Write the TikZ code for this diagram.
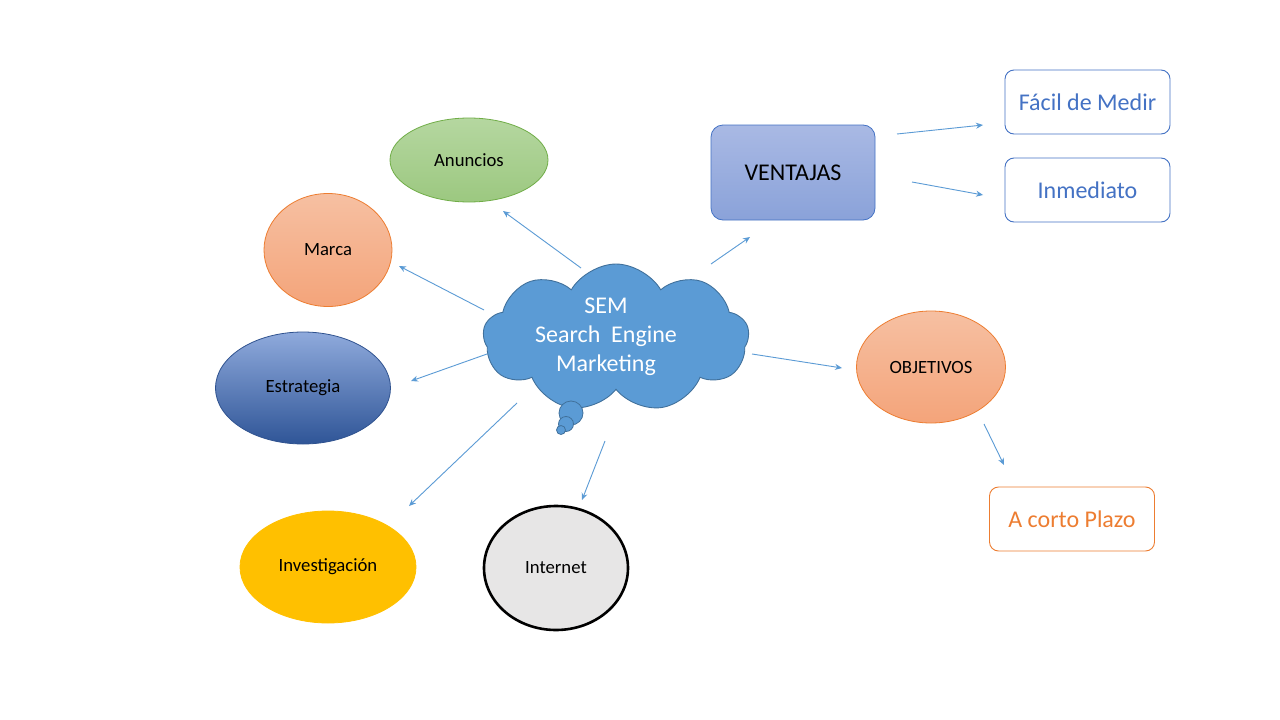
\documentclass[tikz,border=0pt]{standalone}
\usepackage{fontspec}
\setmainfont{Carlito}
\usetikzlibrary{shapes.geometric,shapes.symbols,arrows.meta}
\definecolor{arrowc}{HTML}{5B9BD5}
\definecolor{cloudf}{HTML}{5B9BD5}
\definecolor{cloudd}{HTML}{41719C}
\definecolor{greenT}{HTML}{B5D7A0}
\definecolor{greenB}{HTML}{9CC880}
\definecolor{greenD}{HTML}{70AD47}
\definecolor{orT}{HTML}{F6C0A2}
\definecolor{orB}{HTML}{F4A47A}
\definecolor{orD}{HTML}{ED7D31}
\definecolor{blT}{HTML}{8FAADC}
\definecolor{blM}{HTML}{4472C4}
\definecolor{blB}{HTML}{2F5597}
\definecolor{blD}{HTML}{2F528F}
\definecolor{vT}{HTML}{A9B9E4}
\definecolor{vB}{HTML}{8AA2D9}
\definecolor{boxblue}{HTML}{4472C4}
\definecolor{gold}{HTML}{FFC000}
\definecolor{greyf}{HTML}{E7E6E6}
\tikzset{
  arr/.style={draw=arrowc, line width=0.9pt, -{Stealth[length=7pt,width=6pt]}},
  oval/.style={ellipse, inner sep=0pt, font=\fontsize{18.7}{22}\selectfont, text=black},
  sidebox/.style={rectangle, rounded corners=9pt, fill=white, line width=0.9pt,
    minimum width=165pt, minimum height=64pt, inner sep=0pt, font=\fontsize{24}{28}\selectfont},
}
\begin{document}
\begin{tikzpicture}[x=1pt,y=-1pt]
\useasboundingbox (0,0) rectangle (1280,720);
\fill[white] (0,0) rectangle (1280,720);

% cloud
\node[cloud, cloud puffs=9, cloud puff arc=120, aspect=1.8, fill=cloudf, draw=cloudd, line width=0.9pt,
  minimum width=266pt, minimum height=148pt, inner sep=0pt] (cloud) at (616,338) {};
\node[text=white, align=center, font=\fontsize{24}{29}\selectfont] (semtxt) at (606,337) {SEM\\Search\ \ Engine\\Marketing};
\node[circle, fill=cloudf, draw=cloudd, line width=0.8pt, minimum size=24pt, inner sep=0pt] (b1) at (571,413) {};
\node[circle, fill=cloudf, draw=cloudd, line width=0.8pt, minimum size=15pt, inner sep=0pt] (b2) at (566,424) {};
\node[circle, fill=cloudf, draw=cloudd, line width=0.8pt, minimum size=9pt, inner sep=0pt] (b3) at (561,430) {};

% ovals
\node[oval, minimum width=158pt, minimum height=84pt, top color=greenT, bottom color=greenB, draw=greenD, line width=0.8pt] (anuncios) at (469,160) {Anuncios};
\node[oval, minimum width=128pt, minimum height=113pt, top color=orT, bottom color=orB, draw=orD, line width=0.8pt] (marca) at (328,250) {Marca};
\node[oval, minimum width=175pt, minimum height=112pt, top color=blT, middle color=blM, bottom color=blB, draw=blD, line width=0.8pt] (estrategia) at (303,388) {Estrategia};
\node[oval, minimum width=176pt, minimum height=112pt, fill=gold, draw=gold, line width=0.8pt] (investigacion) at (328,567) {Investigación};
\node[oval, minimum width=144pt, minimum height=124pt, fill=greyf, draw=black, line width=2.6pt] (internet) at (556,568) {Internet};
\node[oval, minimum width=149pt, minimum height=112pt, top color=orT, bottom color=orB, draw=orD, line width=0.8pt] (objetivos) at (931,367) {OBJETIVOS};

% ventajas
\node[rectangle, rounded corners=12pt, minimum width=164pt, minimum height=95pt, inner sep=0pt,
  top color=vT, bottom color=vB, draw=boxblue, line width=0.8pt, font=\fontsize{24}{28}\selectfont] (ventajas) at (793,172.5) {VENTAJAS};

% side boxes
\node[sidebox, draw=boxblue, text=boxblue] (facil) at (1087.5,102) {Fácil de Medir};
\node[sidebox, draw=boxblue, text=boxblue] (inmediato) at (1087.5,190) {Inmediato};
\node[sidebox, draw=orD, text=orD] (corto) at (1072,519) {A corto Plazo};

% arrow endpoints
\coordinate (c1s) at (581,268); \coordinate (c1e) at (503,211);
\coordinate (c2s) at (484,310); \coordinate (c2e) at (399,266);
\coordinate (c3s) at (487,354); \coordinate (c3e) at (411,381);
\coordinate (c4s) at (517,403); \coordinate (c4e) at (409,506);
\coordinate (c5s) at (605,441); \coordinate (c5e) at (582,500);
\coordinate (c6s) at (711,264); \coordinate (c6e) at (750,237);
\coordinate (c7s) at (752,354); \coordinate (c7e) at (842,368);
\coordinate (v1s) at (897,134); \coordinate (v1e) at (983,125);
\coordinate (v2s) at (912,182); \coordinate (v2e) at (983,195);
\coordinate (o1s) at (984,424); \coordinate (o1e) at (1004,465);

\draw[arr] (c1s) -- (c1e);
\draw[arr] (c2s) -- (c2e);
\draw[arr] (c3s) -- (c3e);
\draw[arr] (c4s) -- (c4e);
\draw[arr] (c5s) -- (c5e);
\draw[arr] (c6s) -- (c6e);
\draw[arr] (c7s) -- (c7e);
\draw[arr] (v1s) -- (v1e);
\draw[arr] (v2s) -- (v2e);
\draw[arr] (o1s) -- (o1e);
\end{tikzpicture}
\end{document}
